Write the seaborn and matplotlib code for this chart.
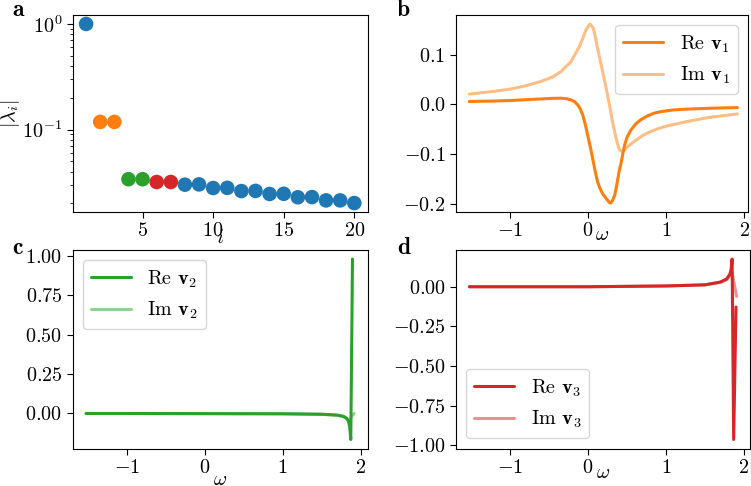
import matplotlib
matplotlib.use("Agg")
import matplotlib.pyplot as plt
import seaborn as sns
import numpy as np
import pandas as pd

# panel a: eigenvalue magnitudes
idx = list(range(1, 21))
lam_abs = [1.0, 0.118, 0.118, 0.0338, 0.0338, 0.0318, 0.0318, 0.0300, 0.0302,
           0.0279, 0.0280, 0.0261, 0.0262, 0.0245, 0.0246, 0.0228, 0.0229,
           0.0213, 0.0213, 0.0201]
lam_group = ["C0", "C1", "C1", "C2", "C2", "C3", "C3"] + ["C0"] * 13

# panel b: v1
w_re1 = [-1.52, -1.2, -1.0, -0.8, -0.58, -0.45, -0.343, -0.27, -0.216, -0.17,
         -0.131, -0.1, -0.067, -0.035, -0.004, 0.03, 0.06, 0.09, 0.123, 0.155,
         0.187, 0.22, 0.25, 0.275, 0.292, 0.315, 0.343, 0.37, 0.398, 0.425,
         0.45, 0.47, 0.5, 0.546, 0.61, 0.673, 0.758, 0.843, 0.95, 1.097, 1.25,
         1.436, 1.65, 1.915]
re1 = [0.0054, 0.0065, 0.0074, 0.009, 0.0108, 0.0118, 0.0121, 0.011, 0.0087,
       0.005, -0.0014, -0.009, -0.0216, -0.04, -0.062, -0.086, -0.109, -0.133,
       -0.156, -0.170, -0.180, -0.187, -0.193, -0.198, -0.199, -0.194, -0.183,
       -0.162, -0.136, -0.118, -0.097, -0.082, -0.067, -0.053, -0.04, -0.0317,
       -0.024, -0.0182, -0.0145, -0.0115, -0.0100, -0.0089, -0.0078, -0.0068]
w_im1 = [-1.52, -1.2, -1.0, -0.8, -0.6, -0.45, -0.343, -0.216, -0.11, -0.06,
         -0.025, 0.025, 0.068, 0.095, 0.123, 0.155, 0.187, 0.22, 0.25, 0.28,
         0.314, 0.345, 0.377, 0.405, 0.44, 0.48, 0.52, 0.589, 0.7, 0.80, 0.9,
         1.013, 1.267, 1.563, 1.915]
im1 = [0.0203, 0.026, 0.0304, 0.037, 0.046, 0.055, 0.066, 0.086, 0.116, 0.135,
       0.150, 0.1616, 0.1535, 0.135, 0.113, 0.090, 0.066, 0.042, 0.019, -0.005,
       -0.035, -0.058, -0.079, -0.092, -0.0957, -0.090, -0.084, -0.0755, -0.063,
       -0.0553, -0.049, -0.0438, -0.035, -0.0263, -0.0196]

# panel c: v2
w_re2 = [-1.52, -1.0, 0.0, 1.0, 1.5, 1.7, 1.78, 1.82, 1.845, 1.86, 1.875, 1.897]
re2 = [0.0, 0.0, -0.001, -0.002, -0.005, -0.01, -0.018, -0.03, -0.05, -0.08,
       -0.165, 0.98]
w_im2 = [-1.52, -1.0, 0.0, 1.0, 1.5, 1.7, 1.78, 1.82, 1.85, 1.87, 1.89, 1.92]
im2 = [0.0, 0.0, -0.001, -0.002, -0.005, -0.012, -0.02, -0.03, -0.04, -0.035,
       -0.015, 0.0]

# panel d: v3
w_re3 = [-1.52, -1.0, 0.0, 1.0, 1.5, 1.7, 1.78, 1.82, 1.835, 1.848, 1.868, 1.898]
re3 = [0.0, 0.0, 0.0, 0.005, 0.012, 0.03, 0.05, 0.08, 0.11, 0.175, -0.964, -0.128]
w_im3 = [-1.52, -1.0, 0.0, 1.0, 1.5, 1.7, 1.78, 1.82, 1.845, 1.875, 1.906]
im3 = [0.0, 0.0, 0.0, 0.005, 0.012, 0.028, 0.045, 0.07, 0.09, 0.02, -0.061]

sns.set_style("ticks", {"axes.edgecolor": "black", "xtick.color": "black",
                        "ytick.color": "black", "axes.labelcolor": "black",
                        "text.color": "black"})
plt.rcParams["font.family"] = ["cmr10"]
plt.rcParams["mathtext.fontset"] = "cm"
plt.rcParams["axes.formatter.use_mathtext"] = True
plt.rcParams["axes.unicode_minus"] = True
plt.rcParams["xtick.labelsize"] = 14.5
plt.rcParams["ytick.labelsize"] = 14.5
plt.rcParams["axes.labelsize"] = 14.5
plt.rcParams["legend.fontsize"] = 14.5
plt.rcParams["xtick.major.size"] = 4
plt.rcParams["ytick.major.size"] = 4

fig = plt.figure(figsize=(7.51, 4.86), dpi=100)
W, H = 751, 486


def box(x0, x1, y0, y1):
    return [x0 / W, 1 - y1 / H, (x1 - x0) / W, (y1 - y0) / H]


ax_a = fig.add_axes(box(72.7, 367.7, 15, 212))
ax_b = fig.add_axes(box(456, 748, 15, 212))
ax_c = fig.add_axes(box(72.7, 367.7, 250, 448.5))
ax_d = fig.add_axes(box(456, 750, 250, 448.5))

pal = {"C0": "#1f77b4", "C1": "#ff7f0e", "C2": "#2ca02c", "C3": "#d62728"}

df_a = pd.DataFrame({"i": idx, "lam": lam_abs, "g": lam_group})
sns.scatterplot(data=df_a, x="i", y="lam", hue="g", palette=pal, s=110,
                linewidth=0, legend=False, ax=ax_a)
ax_a.set_yscale("log")
ax_a.set_xticks([5, 10, 15, 20])
ax_a.set_xlabel("$i$", labelpad=-8)
ax_a.set_ylabel(r"$|\lambda_i|$", labelpad=0)


def vec_panel(ax, wr, r, wi, im, color, k, loc):
    dr = pd.DataFrame({"w": wr, "v": r})
    di = pd.DataFrame({"w": wi, "v": im})
    sns.lineplot(data=dr, x="w", y="v", color=color, lw=2.2, ax=ax,
                 label=r"Re $\mathbf{v_%d}$" % k, sort=False)
    sns.lineplot(data=di, x="w", y="v", color=color, lw=2.2, alpha=0.5, ax=ax,
                 label=r"Im $\mathbf{v_%d}$" % k, sort=False)
    ax.set_ylabel("")
    ax.set_xticks([-1, 0, 1, 2])
    ax.legend(loc=loc, handlelength=2.0)


vec_panel(ax_b, w_re1, re1, w_im1, im1, pal["C1"], 1, "upper right")
ax_b.set_yticks([-0.2, -0.1, 0.0, 0.1])
ax_b.set_xlim(-1.69, 2.05)
ax_b.set_xlabel(r"$\omega$", labelpad=-10)

vec_panel(ax_c, w_re2, re2, w_im2, im2, pal["C2"], 2, "upper left")
ax_c.set_yticks([0.0, 0.25, 0.5, 0.75, 1.0])
ax_c.set_xlabel(r"$\omega$", labelpad=-4)

vec_panel(ax_d, w_re3, re3, w_im3, im3, pal["C3"], 3, "lower left")
ax_d.set_yticks([-1.0, -0.75, -0.5, -0.25, 0.0])
ax_d.set_xlabel(r"$\omega$", labelpad=-9)

for ax in (ax_c, ax_d):
    ax.yaxis.set_major_formatter(matplotlib.ticker.FormatStrFormatter("$%.2f$"))
ax_b.yaxis.set_major_formatter(matplotlib.ticker.FormatStrFormatter("$%.1f$"))

for lbl, (x, y) in zip("abcd", [(12, 10), (397, 10), (12, 248), (397, 248)]):
    fig.text(x / W, 1 - y / H, lbl, fontfamily="cmb10", fontsize=17,
             ha="left", va="center")

fig.savefig("out.png", dpi=100)
